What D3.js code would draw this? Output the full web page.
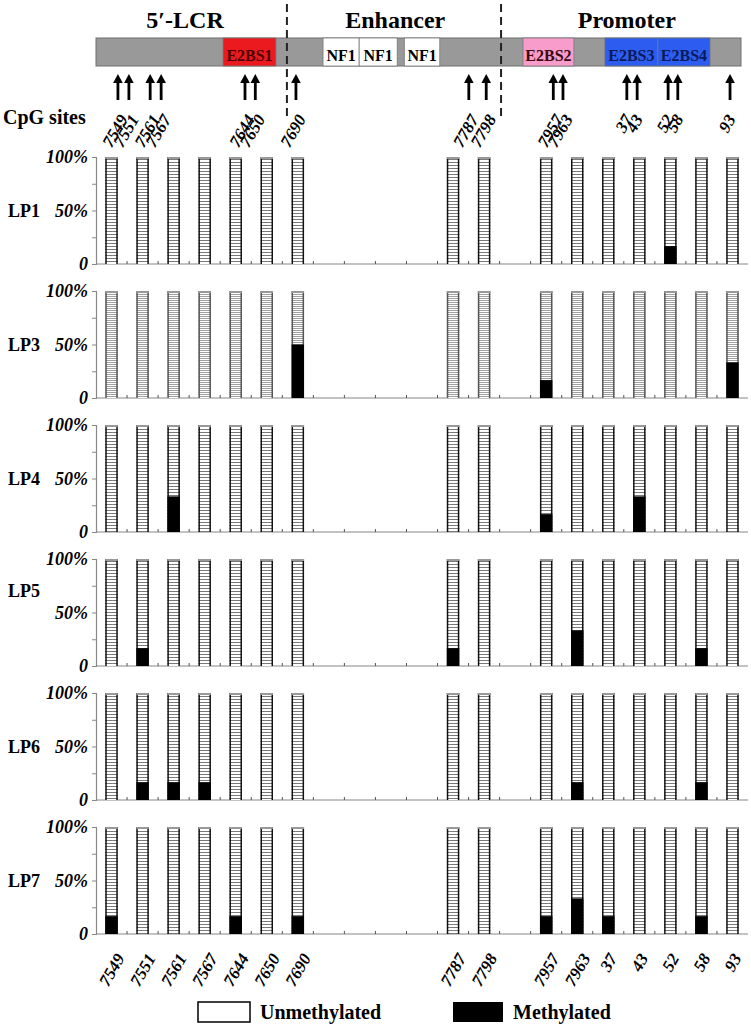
<!DOCTYPE html>
<html><head><meta charset="utf-8">
<script src="https://cdn.jsdelivr.net/npm/d3@7"></script>
<style>
body{margin:0;background:#fff}
svg{display:block}
text{font-family:"Liberation Serif","Times New Roman",serif}
</style>
</head><body>
<svg id="c" width="751" height="1026"></svg>
<script>
// ---------------- DATA ----------------
const slots = ["7549","7551","7561","7567","7644","7650","7690","_a","_b","_c","_d","7787","7798","_e","7957","7963","37","43","52","58","93"];
const sites = ["7549","7551","7561","7567","7644","7650","7690","7787","7798","7957","7963","37","43","52","58","93"];
const samples = ["LP1","LP3","LP4","LP5","LP6","LP7"];
// methylated percentage per site (same order as sites)
const methLP1 = [0,0,0,0,0,0,0,0,0,0,0,0,0,16.7,0,0];
const methLP3 = [0,0,0,0,0,0,50,0,0,16.7,0,0,0,0,0,33.3];
const methLP4 = [0,0,33.3,0,0,0,0,0,0,16.7,0,0,33.3,0,0,0];
const methLP5 = [0,16.7,0,0,0,0,0,16.7,0,0,33.3,0,0,0,16.7,0];
const methLP6 = [0,16.7,16.7,16.7,0,0,0,0,0,0,16.7,0,0,0,16.7,0];
const methLP7 = [16.7,0,0,0,16.7,0,16.7,0,0,16.7,33.3,16.7,0,0,16.7,0];
const methAll = [methLP1,methLP3,methLP4,methLP5,methLP6,methLP7];
const yTicks = [0,25,50,75,100];
const yTickLabels = {0:"0",50:"50%",100:"100%"};

// genome map (schematic map units 0..1000)
const regionNames = ["5′-LCR","Enhancer","Promoter"];
const regionCenters = [138,464,823];
const regionBounds = [296,628];
const segNames = ["E2BS1","NF1","NF1","NF1","E2BS2","E2BS3","E2BS4"];
const segStart = [197,352,408,478,662,789,871];
const segEnd   = [279,408,467,533,741,871,952];
const arrowPos = [34,51,84,101,231,247,310,578,605,709,724,823,839,887,902,983];
const legendLabels = ["Unmethylated","Methylated"];

// ---------------- STYLE ----------------
const segFill = {E2BS1:"#ea1a1f",NF1:"#ffffff",E2BS2:"#f79ccb",E2BS3:"#2c5df0",E2BS4:"#2c5df0"};
const segText = {E2BS1:"#4d0000",NF1:"#000",E2BS2:"#3a0a10",E2BS3:"#0b1a5a",E2BS4:"#0b1a5a"};

const svg = d3.select("#c");
const defs = svg.append("defs");
function stripePattern(id, lineCol, period, lw){
  const p = defs.append("pattern").attr("id",id).attr("patternUnits","userSpaceOnUse")
    .attr("width",6).attr("height",period);
  p.append("rect").attr("width",6).attr("height",period).attr("fill","#fff");
  p.append("rect").attr("y",0).attr("width",6).attr("height",lw).attr("fill",lineCol);
}
stripePattern("st","#7a7a7a",3,1);
stripePattern("st2","#a0a0a0",2,1);

// ---------------- GENOME MAP ----------------
const mx = d3.scaleLinear().domain([0,1000]).range([96,741]);
const mapTop = 38, mapH = 28;
svg.append("rect").attr("x",mx(0)).attr("y",mapTop).attr("width",mx(1000)-mx(0)).attr("height",mapH)
  .attr("fill","#999").attr("stroke","#6e6e6e").attr("stroke-width",1);
segNames.forEach((n,i)=>{
  svg.append("rect").attr("x",mx(segStart[i])).attr("y",mapTop).attr("width",mx(segEnd[i])-mx(segStart[i])).attr("height",mapH)
    .attr("fill",segFill[n]).attr("stroke","#777").attr("stroke-width",0.8);
  svg.append("text").attr("x",(mx(segStart[i])+mx(segEnd[i]))/2).attr("y",mapTop+23)
    .attr("text-anchor","middle").attr("font-weight","bold").attr("font-size",16)
    .attr("fill",segText[n]).text(n);
});
regionNames.forEach((n,i)=>{
  svg.append("text").attr("x",mx(regionCenters[i])).attr("y",28).attr("text-anchor","middle")
    .attr("font-weight","bold").attr("font-size",24).text(n);
});
regionBounds.forEach(b=>{
  svg.append("line").attr("x1",mx(b)).attr("x2",mx(b)).attr("y1",4).attr("y2",120)
    .attr("stroke","#222").attr("stroke-width",2).attr("stroke-dasharray","8,5");
});
// arrows
arrowPos.forEach((p,i)=>{
  const x = mx(p);
  svg.append("line").attr("x1",x).attr("x2",x).attr("y1",100).attr("y2",81).attr("stroke","#000").attr("stroke-width",2.8);
  svg.append("path").attr("d",`M${x-4.8},${83}L${x},${74}L${x+4.8},${83}Z`).attr("fill","#000");
  const t = svg.append("text").attr("font-weight","bold").attr("font-style","italic").attr("font-size",17)
    .attr("text-anchor","end").text(sites[i]);
  const L = t.node().getComputedTextLength();
  t.attr("transform",`translate(${x + L/4 + 2},${119}) rotate(-60)`);
});
svg.append("text").attr("x",3).attr("y",124).attr("font-weight","bold").attr("font-size",20).text("CpG sites");

// ---------------- PANELS ----------------
const x = d3.scaleBand().domain(slots).range([96,748]).paddingInner(0.6).paddingOuter(0.3);
const bw = x.bandwidth();
const panelTop0 = 157, panelH = 107, panelStep = 134;

samples.forEach((s,pi)=>{
  const top = panelTop0 + pi*panelStep, bot = top + panelH;
  const y = d3.scaleLinear().domain([0,100]).range([bot,top]);
  const g = svg.append("g");
  // y axis
  const ya = d3.axisLeft(y).tickValues(yTicks).tickSize(4).tickPadding(4)
    .tickFormat(d=>yTickLabels[d]||"");
  const yg = g.append("g").attr("transform",`translate(96,0)`).call(ya);
  yg.select(".domain").attr("stroke","#888").attr("stroke-width",1.2);
  yg.selectAll(".tick line").attr("stroke","#888");
  yg.selectAll(".tick text").attr("font-family","'Liberation Serif',serif").attr("font-size",18)
    .attr("font-weight","bold").attr("font-style","italic").attr("fill","#000");
  // x axis line + small ticks at band boundaries
  g.append("line").attr("x1",96).attr("x2",748).attr("y1",bot).attr("y2",bot).attr("stroke","#888").attr("stroke-width",1.2);
  slots.forEach((d,i)=>{
    if(i===0) return;
    const bx = x(d) - x.step()*x.paddingInner()/2;
    g.append("line").attr("x1",bx).attr("x2",bx).attr("y1",bot).attr("y2",bot-3).attr("stroke","#555").attr("stroke-width",1);
  });
  // sample label
  g.append("text").attr("x",8).attr("y",y(50)+6 - (s==="LP5"?22:0)).attr("font-weight","bold").attr("font-size",18).text(s);
  // bars
  const vals = methAll[pi];
  const pat = s==="LP3" ? "url(#st2)" : "url(#st)";
  const edge = s==="LP3" ? "#555" : "#111";
  sites.forEach((site,i)=>{
    const bx = x(site);
    g.append("rect").attr("x",bx).attr("y",y(100)).attr("width",bw).attr("height",y(0)-y(100)).attr("fill",pat);
    g.append("line").attr("x1",bx+0.7).attr("x2",bx+0.7).attr("y1",y(100)).attr("y2",y(0)).attr("stroke",edge).attr("stroke-width",1.5);
    g.append("line").attr("x1",bx+bw-0.7).attr("x2",bx+bw-0.7).attr("y1",y(100)).attr("y2",y(0)).attr("stroke",edge).attr("stroke-width",1.5);
    g.append("line").attr("x1",bx).attr("x2",bx+bw).attr("y1",y(100)+1).attr("y2",y(100)+1).attr("stroke","#999").attr("stroke-width",2);
    if(vals[i]>0){
      g.append("rect").attr("x",bx).attr("y",y(vals[i])).attr("width",bw).attr("height",y(0)-y(vals[i])).attr("fill","#000");
    }
  });
  // bottom labels
  if(pi===samples.length-1){
    sites.forEach(site=>{
      const cx = x(site)+bw/2;
      const t = g.append("text").attr("font-weight","bold").attr("font-style","italic").attr("font-size",17)
        .attr("text-anchor","end").text(site);
      const L = t.node().getComputedTextLength();
      t.attr("transform",`translate(${cx + L/4 + 5.2},${bot+24}) rotate(-60)`);
    });
  }
});

// ---------------- LEGEND ----------------
svg.append("rect").attr("x",198).attr("y",1002).attr("width",52).attr("height",20).attr("fill","#fff").attr("stroke","#000").attr("stroke-width",1.5);
svg.append("text").attr("x",260).attr("y",1019).attr("font-weight","bold").attr("font-size",20).text(legendLabels[0]);
svg.append("rect").attr("x",453).attr("y",1002).attr("width",50).attr("height",20).attr("fill","#000");
svg.append("text").attr("x",513).attr("y",1019).attr("font-weight","bold").attr("font-size",20).text(legendLabels[1]);
</script>
</body></html>
